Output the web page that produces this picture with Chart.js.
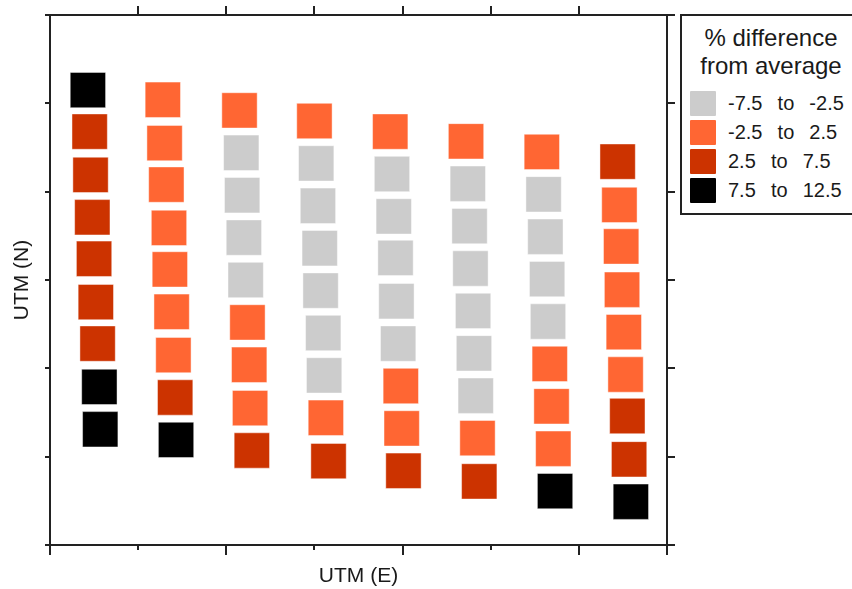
<!DOCTYPE html>
<html>
<head>
<meta charset="utf-8">
<script src="https://cdn.jsdelivr.net/npm/chart.js@4"></script>
<style>
  body { margin: 0; width: 852px; height: 589px; overflow: hidden; background: #fff; position: relative; font-family: "Liberation Sans", Arial, sans-serif; color: #1a1a1a; }
  #utmChart { position: absolute; left: 0; top: 0; }
  #legend { position: absolute; left: 680px; top: 14px; width: 182px; height: 201px; box-sizing: border-box; border: 2px solid #222; background: #fff; }
  #legend .ttl { font-size: 24px; line-height: 28px; text-align: center; padding-top: 8px; }
  #legend .row { display: flex; align-items: center; height: 29px; }
  #legend .sw { width: 26px; height: 25px; margin-left: 8px; border-radius: 1px; }
  #legend .lbl { margin-left: 12px; font-size: 20px; white-space: pre; word-spacing: 2px; }
  #legend .rows { margin-top: 9px; }
</style>
</head>
<body>
<canvas id="utmChart" width="852" height="589"></canvas>
<div id="legend"><div class="ttl">% difference<br>from average</div><div class="rows" id="legendRows"></div></div>
<script>
  // one sub-array per sampling column (west to east), 9 plots each from north to south
  const eastings = [
    [43, 45, 46, 48, 50, 52, 54, 56, 57],
    [128, 130, 132, 135, 136, 138, 140, 142, 143],
    [215, 217, 218, 220, 222, 224, 226, 227, 229],
    [300, 302, 304, 306, 307, 310, 311, 313, 316],
    [386, 388, 390, 392, 393, 395, 398, 399, 401],
    [472, 474, 476, 477, 480, 481, 483, 485, 487],
    [558, 560, 562, 564, 565, 567, 569, 571, 573],
    [644, 646, 648, 649, 651, 653, 655, 657, 659],
  ];
  const northings = [
    [515, 468, 419, 371, 324, 275, 228, 179, 131],
    [504, 455, 408, 359, 312, 264, 215, 167, 119],
    [492, 444, 396, 348, 300, 252, 204, 155, 107],
    [480, 432, 384, 336, 288, 240, 192, 144, 95],
    [468, 420, 372, 325, 276, 228, 180, 132, 84],
    [457, 409, 361, 313, 265, 217, 169, 121, 72],
    [445, 397, 349, 301, 253, 205, 157, 109, 61],
    [434, 385, 338, 289, 241, 193, 146, 97, 49],
  ];
  // class index into classLabels for every plot
  const classes = [
    [3, 2, 2, 2, 2, 2, 2, 3, 3],
    [1, 1, 1, 1, 1, 1, 1, 2, 3],
    [1, 0, 0, 0, 0, 1, 1, 1, 2],
    [1, 0, 0, 0, 0, 0, 0, 1, 2],
    [1, 0, 0, 0, 0, 0, 1, 1, 2],
    [1, 0, 0, 0, 0, 0, 0, 1, 2],
    [1, 0, 0, 0, 0, 1, 1, 1, 3],
    [2, 1, 1, 1, 1, 1, 2, 2, 3],
  ];
  const classLabels = ["-7.5  to  -2.5", "-2.5  to  2.5", "2.5  to  7.5", "7.5  to  12.5"];
  const classColors = ["#cccccc", "#ff6633", "#cc3300", "#000000"];

  const axisColor = "#222";
  const titleFont = { family: "'Liberation Sans', Arial, sans-serif", size: 21 };

  const datasets = classLabels.map((label, k) => {
    const pts = [];
    eastings.forEach((col, i) => {
      col.forEach((e, j) => {
        if (classes[i][j] === k) pts.push({ x: e, y: northings[i][j] });
      });
    });
    return {
      label: label,
      data: pts,
      pointStyle: "rect",
      pointRadius: 25,
      backgroundColor: classColors[k],
      borderColor: "rgba(255,255,255,0.45)",
      borderWidth: 1,
    };
  });

  // legend built as html so it can sit in its own box
  const rows = document.getElementById("legendRows");
  classLabels.forEach((label, k) => {
    const r = document.createElement("div");
    r.className = "row";
    r.innerHTML = '<div class="sw" style="background:' + classColors[k] + '"></div><div class="lbl"></div>';
    r.querySelector(".lbl").textContent = label;
    rows.appendChild(r);
  });

  function frame(extra) {
    return Object.assign({
      type: "linear",
      ticks: { display: false, stepSize: 100 },
      grid: { drawOnChartArea: false, drawTicks: true, color: axisColor, lineWidth: 2 },
      border: { color: axisColor, width: 2 },
    }, extra);
  }

  const ctx = document.getElementById("utmChart").getContext("2d");
  new Chart(ctx, {
    type: "scatter",
    data: { datasets: datasets },
    options: {
      responsive: false,
      animation: false,
      events: [],
      layout: { padding: 0, autoPadding: false },
      plugins: { legend: { display: false }, tooltip: { enabled: false } },
      scales: {
        x: frame({
          position: "bottom", min: 0, max: 700, weight: 0,
          grid: { drawOnChartArea: false, color: axisColor, lineWidth: 2, tickLength: 5 },
          afterFit: (s) => { s.height = 0; },
        }),
        xMajor: frame({
          position: "bottom", min: 0, max: 700, weight: 1,
          ticks: { display: false, stepSize: 200 },
          grid: { drawOnChartArea: false, color: axisColor, lineWidth: 2, tickLength: 10 },
          border: { display: false },
          title: { display: true, text: "UTM (E)", color: "#1a1a1a", font: titleFont, padding: { top: 0, bottom: 0 } },
          afterFit: (s) => { s.height = 44; },
        }),
        xTop: frame({
          position: "top", min: 0, max: 700,
          grid: {
            drawOnChartArea: false, lineWidth: 2, tickLength: 9,
            color: axisColor,
            tickColor: (c) => (c.tick && (c.tick.value === 0 || c.tick.value === 700) ? "rgba(0,0,0,0)" : axisColor),
          },
          afterFit: (s) => { s.height = 15; },
        }),
        y: frame({
          position: "left", min: 0, max: 600,
          grid: { drawOnChartArea: false, color: axisColor, lineWidth: 2, tickLength: 5 },
          title: { display: true, text: "UTM (N)", color: "#1a1a1a", font: titleFont, padding: { top: 10, bottom: 0 } },
          afterFit: (s) => { s.width = 50; },
        }),
        yRight: frame({
          position: "right", min: 0, max: 600,
          grid: { drawOnChartArea: false, color: axisColor, lineWidth: 2, tickLength: 8 },
          afterFit: (s) => { s.width = 185; },
        }),
      },
    },
  });
</script>
</body>
</html>
